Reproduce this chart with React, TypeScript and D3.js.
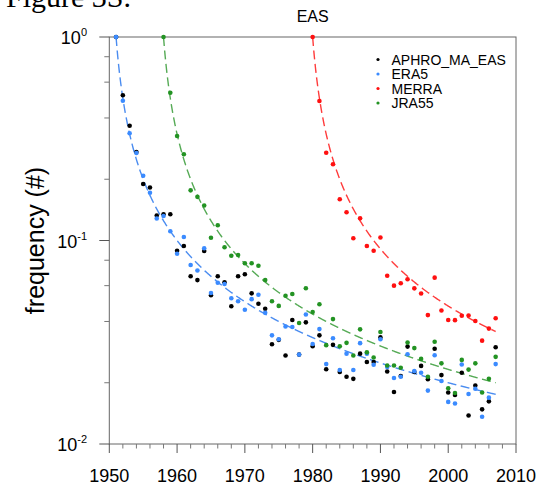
import React from "react";
import * as d3 from "d3";

const years: number[] = d3.range(1951, 2008);

// APHRO_MA_EAS (black) 1951-2007
const aphro: number[] = [
  1.0, 0.517, 0.3665, 0.272, 0.1895, 0.1822, 0.1327, 0.1345, 0.1345, 0.0891,
  0.094, 0.0667, 0.0639, 0.0888, 0.0538, 0.0667, 0.0623, 0.0475, 0.0667, 0.0682,
  0.055, 0.0489, 0.0462, 0.0309, 0.0325, 0.0272, 0.0407, 0.0275, 0.0396, 0.0302,
  0.0342, 0.0233, 0.0307, 0.0226, 0.0214, 0.0209, 0.0278, 0.0253, 0.0253, 0.0334,
  0.0227, 0.018, 0.0216, 0.0301, 0.0226, 0.0242, 0.0208, 0.0294, 0.0218, 0.0179,
  0.0174, 0.0224, 0.0138, 0.0194, 0.0148, 0.0162, 0.0299,
];

// ERA5 (blue) 1951-2007
const era5: number[] = [
  1.0, 0.486, 0.3363, 0.269, 0.2079, 0.1717, 0.1282, 0.1319, 0.1111, 0.0861,
  0.104, 0.0758, 0.0712, 0.0916, 0.0552, 0.062, 0.0611, 0.052, 0.0503, 0.0457,
  0.0515, 0.0541, 0.0441, 0.0342, 0.0327, 0.0378, 0.0376, 0.0275, 0.0433, 0.031,
  0.0367, 0.0247, 0.0331, 0.0231, 0.0278, 0.0231, 0.0313, 0.0278, 0.0245, 0.0327,
  0.0239, 0.0211, 0.0214, 0.0276, 0.0228, 0.0224, 0.0183, 0.0273, 0.0204, 0.0161,
  0.0158, 0.0246, 0.0176, 0.0187, 0.0136, 0.0169, 0.0247,
];

// MERRA (red) 1980-2007
const merraYears: number[] = d3.range(1980, 2008);
const merra: number[] = [
  1.0, 0.4846, 0.27, 0.2368, 0.1594, 0.1376, 0.1025, 0.1285, 0.094, 0.0891,
  0.1034, 0.0671, 0.06, 0.0616, 0.0645, 0.0582, 0.0549, 0.043, 0.0657, 0.0453,
  0.0407, 0.0406, 0.0427, 0.0428, 0.0402, 0.0322, 0.0369, 0.0415,
];

// JRA55 (green) 1958-2007
const jraYears: number[] = d3.range(1958, 2008);
const jra55: number[] = [
  1.0, 0.532, 0.326, 0.2655, 0.1764, 0.1639, 0.1486, 0.1031, 0.1188, 0.0926,
  0.0842, 0.0849, 0.0773, 0.0773, 0.0752, 0.0639, 0.0503, 0.0477, 0.0535, 0.0546,
  0.0393, 0.0583, 0.0445, 0.0486, 0.0306, 0.0411, 0.0302, 0.0314, 0.0272, 0.0366,
  0.0282, 0.0266, 0.0355, 0.0243, 0.0243, 0.0237, 0.0315, 0.0296, 0.0262, 0.0214,
  0.0318, 0.0249, 0.0188, 0.0178, 0.0259, 0.0232, 0.0249, 0.0179, 0.0209, 0.0268,
];

const seriesNames = ["APHRO_MA_EAS", "ERA5", "MERRA", "JRA55"];
const dotColors = ["#000000", "#3b8bff", "#ff1010", "#239323"];
const lineColors = ["#000000", "#4a8cf0", "#ff3b3b", "#55aa55"];
const xTicks = [1950, 1960, 1970, 1980, 1990, 2000, 2010];
const yMajor = [0.01, 0.1, 1];
const yExp = ["-2", "-1", "0"];
const yMinor = [0.02, 0.04, 0.06, 0.08, 0.2, 0.4, 0.6, 0.8];
const endYear = 2007;

const FONT = "'Liberation Sans', Arial, Helvetica, sans-serif";

export default function App() {
  const W = 539;
  const H = 489;
  const left = 109.3;
  const right = 516;
  const top = 37;
  const bottom = 444;
  const x = d3.scaleLinear().domain([1950, 2010]).range([left, right]);
  const y = d3.scaleLog().domain([0.01, 1]).range([bottom, top]);

  const series = [
    { yrs: years, vals: aphro },
    { yrs: years, vals: era5 },
    { yrs: merraYears, vals: merra },
    { yrs: jraYears, vals: jra55 },
  ];

  // expected record frequency 1/n (dashed curves), for ERA5/APHRO, MERRA, JRA55
  const curves = [
    { start: years[0], color: lineColors[1] },
    { start: merraYears[0], color: lineColors[2] },
    { start: jraYears[0], color: lineColors[3] },
  ];
  const lineGen = d3
    .line<number>()
    .x((t) => x(t))
    .y((t) => y(1 / (t - 0) ));

  const curvePath = (start: number) => {
    const ts = d3.range(start, endYear + 0.0001, 0.05);
    return d3
      .line<number>()
      .x((t) => x(t))
      .y((t) => y(1 / (t - start + 1)))(ts);
  };
  void lineGen;

  const minorX = d3.range(1950, 2011, 2).filter((v) => v % 10 !== 0);

  return (
    <svg
      width={W}
      height={H}
      style={{ position: "absolute", left: 0, top: 0, background: "#fff" }}
      fontFamily={FONT}
    >
      <rect x={0} y={0} width={W} height={H} fill="#fff" />
      <text x={6} y={7} fontFamily="'Liberation Serif', 'Times New Roman', serif" fontSize={30} fill="#000">
        Figure 3S.
      </text>
      <text x={(left + right) / 2} y={22} textAnchor="middle" fontSize={16} fill="#000">
        EAS
      </text>
      <text
        transform={`translate(44, ${(top + bottom) / 2}) rotate(-90)`}
        textAnchor="middle"
        fontSize={25}
        fill="#000"
      >
        frequency (#)
      </text>

      {/* frame */}
      <rect x={left} y={top} width={right - left} height={bottom - top} fill="none" stroke="#666" strokeWidth={1} />

      {/* x ticks */}
      {xTicks.map((t) => (
        <g key={"xt" + t}>
          <line x1={x(t)} x2={x(t)} y1={bottom} y2={bottom + 9} stroke="#555" />
          <text x={x(t)} y={481.5} textAnchor="middle" fontSize={18} fill="#000">
            {t}
          </text>
        </g>
      ))}
      {minorX.map((t) => (
        <line key={"xm" + t} x1={x(t)} x2={x(t)} y1={bottom} y2={bottom + 4.5} stroke="#777" />
      ))}

      {/* y ticks */}
      {yMajor.map((v, i) => (
        <g key={"yt" + v}>
          <line x1={left - 10} x2={left} y1={y(v)} y2={y(v)} stroke="#555" />
          <text x={87} y={y(v) + 7} textAnchor="end" fontSize={18} fill="#000">
            10
            <tspan fontSize={11} dy={-8}>
              {yExp[i]}
            </tspan>
          </text>
        </g>
      ))}
      {yMinor.map((v) => (
        <line key={"ym" + v} x1={left - 5} x2={left} y1={y(v)} y2={y(v)} stroke="#777" />
      ))}

      {/* dashed expected curves */}
      {curves.map((c) => (
        <path
          key={"c" + c.start}
          d={curvePath(c.start) || ""}
          fill="none"
          stroke={c.color}
          strokeWidth={1.4}
          strokeDasharray="9,4.5"
        />
      ))}

      {/* points */}
      {series.map((s, si) => (
        <g key={"s" + si}>
          {s.vals.map((v, i) => (
            <circle key={i} cx={x(s.yrs[i])} cy={y(v)} r={2.3} fill={dotColors[si]} />
          ))}
        </g>
      ))}

      {/* legend */}
      {seriesNames.map((n, i) => (
        <g key={"lg" + n}>
          <circle cx={378} cy={59.5 + i * 14.5} r={1.6} fill={dotColors[i]} />
          <text x={391.5} y={64.5 + i * 14.5} fontSize={14} fill="#000">
            {n}
          </text>
        </g>
      ))}
    </svg>
  );
}
